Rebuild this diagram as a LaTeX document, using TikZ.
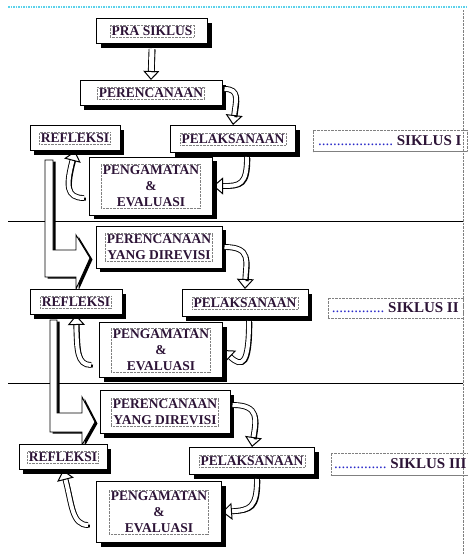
\documentclass[tikz,border=0pt]{standalone}
\usepackage{fontspec}
\setmainfont{Liberation Serif}
\usetikzlibrary{arrows.meta,shadows}
\definecolor{ink}{RGB}{45,20,55}
\definecolor{lead}{RGB}{40,40,200}
\definecolor{sky}{RGB}{90,210,235}

\begin{document}
\begin{tikzpicture}[x=1pt,y=-1pt,
  stage/.style={rectangle,draw,line width=1pt,fill=white,drop shadow={shadow xshift=4pt,shadow yshift=-4pt,fill=black,opacity=1}},
  caption/.style={rectangle,draw=gray,densely dotted,inner sep=1.5pt,text=ink,font=\fontsize{13.5}{16}\selectfont\bfseries,align=center},
  flow/.style={draw,double,double distance=4pt,line width=0.9pt,-{Triangle[open,length=10pt,width=17pt,line width=1pt]},
    preaction={draw=black,-,line width=3pt,shorten >=9pt,transform canvas={shift={(1.8pt,-1.2pt)}}}},
  bent/.style={draw,line width=0.9pt,fill=white,drop shadow={shadow xshift=2.5pt,shadow yshift=-1.5pt,fill=black,opacity=1}},
  rule/.style={line width=1pt},
  runbox/.style={rectangle,draw=gray,densely dotted,inner sep=1pt,text=ink,font=\fontsize{15}{16}\selectfont\bfseries,anchor=east}]
\useasboundingbox (0,0) rectangle (467,554);
\draw[sky,densely dotted,line width=1.5pt] (8,7) -- (467,7);
\draw[gray,densely dotted] (463,10) -- (463,554);
%% siklus I
\node[stage,minimum width=111,minimum height=25] (pra) at (152,31) {};
\node[caption] (pra-t) at (pra) {PRA SIKLUS};
\node[stage,minimum width=142,minimum height=25] (ren1) at (151,93) {};
\node[caption] (ren1-t) at (ren1) {PERENCANAAN};
\node[stage,minimum width=90,minimum height=25] (ref1) at (75,138) {};
\node[caption] (ref1-t) at (ref1) {REFLEKSI};
\node[stage,minimum width=125,minimum height=27] (lak1) at (233,139) {};
\node[caption] (lak1-t) at (lak1) {PELAKSANAAN};
\node[stage,minimum width=123,minimum height=58] (eva1) at (151,186) {};
\node[caption] (eva1-t) at (eva1) {PENGAMATAN\\\&\\EVALUASI};
\node[runbox,minimum width=154,minimum height=21] (sik1) at (467,141) {\textcolor{lead}{\mdseries....................}~SIKLUS I};
\draw[gray,line width=1.2pt] (sik1.south west) -- (sik1.south east);
\draw[flow,double distance=5pt,-{Triangle[open,length=9pt,width=16pt,line width=1pt]}] (pra.south) ++(0,5) coordinate (pra-s) -- (ren1.north);
\draw[flow] (ren1.east) ++(2,-4) coordinate (ren1-e) .. controls (240,89) and (236,100) .. (lak1.north);
\draw[flow] (lak1.south) ++(14,4) coordinate (lak1-s) .. controls (247,185) and (240,186) .. (eva1.east);
\draw[flow] (eva1.west) ++(-5,12) coordinate (eva1-w) .. controls (66,198) and (66,185) .. (ref1.south);
\draw[rule] (8,221) -- (463,221);
\path[bent] (45,160) -- (45,277) -- (76,277) -- (76,289) -- (90,258) -- (76,235) -- (76,250) -- (53,250) -- (53,160) -- cycle;
%% siklus II
\node[stage,minimum width=126,minimum height=42] (ren2) at (159,247) {};
\node[caption] (ren2-t) at (ren2) {PERENCANAAN\\YANG DIREVISI};
\node[stage,minimum width=92,minimum height=25] (ref2) at (76,302) {};
\node[caption] (ref2-t) at (ref2) {REFLEKSI};
\node[stage,minimum width=126,minimum height=27] (lak2) at (245,303) {};
\node[caption] (lak2-t) at (lak2) {PELAKSANAAN};
\node[stage,minimum width=123,minimum height=55] (eva2) at (161,350) {};
\node[caption] (eva2-t) at (eva2) {PENGAMATAN\\\&\\EVALUASI};
\node[runbox,minimum width=135,minimum height=20] (sik2) at (463,308) {\textcolor{lead}{\mdseries..............}~SIKLUS II};
\draw[flow] (ren2.east) ++(2,0) coordinate (ren2-e) .. controls (252,247) and (246,262) .. (lak2.north);
\draw[flow] (lak2.south) ++(4,4) coordinate (lak2-s) .. controls (249,365) and (242,368) .. (eva2.east);
\draw[flow] (eva2.west) ++(-8,15) coordinate (eva2-w) .. controls (77,365) and (77,350) .. (ref2.south);
\draw[rule] (8,383) -- (463,383);
\path[bent] (50,320) -- (50,432) -- (82,432) -- (82,445) -- (95,422) -- (82,397) -- (82,413) -- (57,413) -- (57,320) -- cycle;
%% siklus III
\node[stage,minimum width=130,minimum height=43] (ren3) at (165,412) {};
\node[caption] (ren3-t) at (ren3) {PERENCANAAN\\YANG DIREVISI};
\node[stage,minimum width=88,minimum height=25] (ref3) at (63,457) {};
\node[caption] (ref3-t) at (ref3) {REFLEKSI};
\node[stage,minimum width=125,minimum height=27] (lak3) at (252,461) {};
\node[caption] (lak3-t) at (lak3) {PELAKSANAAN};
\node[stage,minimum width=125,minimum height=61] (eva3) at (159,512) {};
\node[caption] (eva3-t) at (eva3) {PENGAMATAN\\\&\\EVALUASI};
\node[runbox,minimum width=139,minimum height=22] (sik3) at (470,464) {\textcolor{lead}{\mdseries..............}~SIKLUS III};
\draw[gray,line width=1.2pt] (sik3.south west) -- (sik3.south east);
\draw[flow] (ren3.east) ++(2,-7) coordinate (ren3-e) .. controls (260,405) and (256,420) .. (lak3.north);
\draw[flow] (lak3.south) ++(5,4) coordinate (lak3-s) .. controls (257,508) and (250,510) .. (eva3.east);
\draw[flow] (eva3.west) ++(-8,13) coordinate (eva3-w) .. controls (72,525) and (72,505) .. (ref3.south);
\end{tikzpicture}
\end{document}
